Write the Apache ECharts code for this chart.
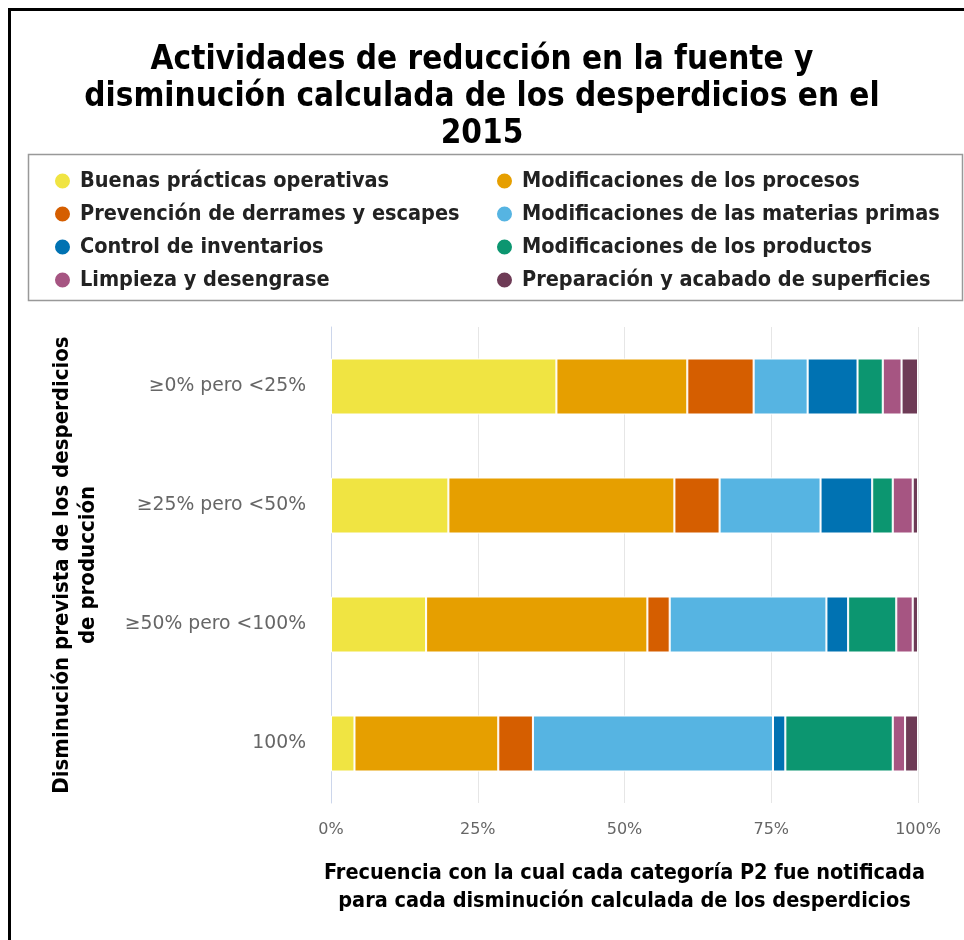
<!DOCTYPE html>
<html>
<head>
<meta charset="utf-8">
<script src="https://cdn.jsdelivr.net/npm/echarts@6/dist/echarts.min.js"></script>
<style>
  html, body { margin: 0; padding: 0; background: #fff; }
  #main { width: 964px; height: 940px; }
</style>
</head>
<body>
<div id="main"></div>
<script>
    var myChart = echarts.init(document.getElementById('main'));

    // categorías del eje vertical
    var categorias = ['≥0% pero <25%', '≥25% pero <50%', '≥50% pero <100%', '100%'];

    // series (porcentaje de cada categoría P2)
    var buenasPracticas   = [38.4, 20.0, 16.2, 4.0];
    var modifProcesos     = [22.3, 38.5, 37.7, 24.5];
    var prevencion        = [11.3, 7.7, 3.8, 5.9];
    var modifMaterias     = [9.2, 17.2, 26.7, 40.9];
    var controlInvent     = [8.5, 8.8, 3.7, 2.1];
    var modifProductos    = [4.3, 3.5, 8.2, 18.3];
    var limpieza          = [3.2, 3.4, 2.8, 2.1];
    var preparacion       = [2.8, 0.9, 0.9, 2.2];

    var xTicks = [0, 25, 50, 75, 100];

    var fuente = 'DejaVu Sans Condensed';
    // elipse (se estira al tamaño del icono)
    var elipse = 'path://M50,0 A50,50 0 1,1 50,100 A50,50 0 1,1 50,0 Z';

    function serie(nombre, datos, color) {
        return {
            name: nombre,
            type: 'bar',
            stack: 'total',
            barWidth: 56,
            data: datos,
            itemStyle: { color: color, borderColor: '#fff', borderWidth: 1 }
        };
    }

    var leyendaTexto = { fontFamily: fuente, fontWeight: 'bold', fontSize: 21.5, lineHeight: 21, color: '#222', padding: [0, 0, 0, 4] };

    option = {
        title: {
            left: 'center',
            top: 37,
            text: 'Actividades de reducción en la fuente y\ndisminución calculada de los desperdicios en el\n2015',
            textStyle: { fontFamily: fuente, fontWeight: 'bold', fontSize: 33, lineHeight: 37, color: '#000' }
        },
        // marco exterior y recuadro de la leyenda
        graphic: [{
            type: 'rect',
            shape: { x: 9.5, y: 9.5, width: 1100, height: 1100 },
            style: { fill: null, stroke: '#000', lineWidth: 3 }
        }, {
            type: 'rect',
            shape: { x: 28.5, y: 154.5, width: 934, height: 146 },
            style: { fill: null, stroke: '#999', lineWidth: 1.5 }
        }],
        legend: [{
            orient: 'vertical',
            left: 48,
            top: 165,
            icon: elipse,
            itemWidth: 17,
            itemHeight: 21,
            itemGap: 11,
            textStyle: leyendaTexto,
            data: ['Buenas prácticas operativas', 'Prevención de derrames y escapes', 'Control de inventarios', 'Limpieza y desengrase']
        }, {
            orient: 'vertical',
            left: 490,
            top: 165,
            icon: elipse,
            itemWidth: 17,
            itemHeight: 21,
            itemGap: 11,
            textStyle: leyendaTexto,
            data: ['Modificaciones de los procesos', 'Modificaciones de las materias primas', 'Modificaciones de los productos', 'Preparación y acabado de superficies']
        }],
        grid: { left: 331, right: 46, top: 327, bottom: 137, containLabel: false },
        xAxis: {
            type: 'value',
            min: xTicks[0],
            max: xTicks[xTicks.length - 1],
            interval: 25,
            axisLine: { show: false },
            axisTick: { show: false },
            splitLine: { lineStyle: { color: '#e6e6e6', width: 1 } },
            axisLabel: { formatter: '{value}%', fontFamily: 'DejaVu Sans', fontSize: 16, color: '#666', margin: 19 },
            name: 'Frecuencia con la cual cada categoría P2 fue notificada\npara cada disminución calculada de los desperdicios',
            nameLocation: 'middle',
            nameGap: 56,
            nameTextStyle: { fontFamily: fuente, fontWeight: 'bold', fontSize: 21.5, lineHeight: 28, color: '#000' }
        },
        yAxis: {
            type: 'category',
            inverse: true,
            data: categorias,
            axisLine: { lineStyle: { color: '#ccd6eb' } },
            axisTick: { length: 17, lineStyle: { color: '#ccd6eb' } },
            axisLabel: { fontFamily: 'DejaVu Sans', fontSize: 18.8, color: '#666', margin: 25 },
            name: 'Disminución prevista de los desperdicios\nde producción',
            nameLocation: 'middle',
            nameGap: 230,
            nameTextStyle: { fontFamily: fuente, fontWeight: 'bold', fontSize: 22, lineHeight: 26, color: '#000' }
        },
        series: [
            serie('Buenas prácticas operativas', buenasPracticas, '#f0e442'),
            serie('Modificaciones de los procesos', modifProcesos, '#e69f00'),
            serie('Prevención de derrames y escapes', prevencion, '#d55e00'),
            serie('Modificaciones de las materias primas', modifMaterias, '#56b4e2'),
            serie('Control de inventarios', controlInvent, '#0072b2'),
            serie('Modificaciones de los productos', modifProductos, '#0c9670'),
            serie('Limpieza y desengrase', limpieza, '#a65582'),
            serie('Preparación y acabado de superficies', preparacion, '#6e3b56')
        ]
    };

    myChart.setOption(option);
</script>
</body>
</html>
